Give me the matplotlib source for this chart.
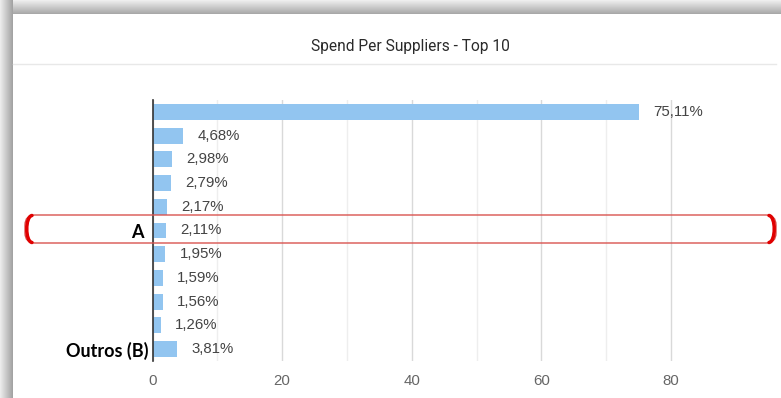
import matplotlib
matplotlib.use('Agg')
import matplotlib.pyplot as plt
import numpy as np
from matplotlib.patches import FancyBboxPatch, Rectangle
from matplotlib.path import Path
from matplotlib.patches import PathPatch

# dados do gráfico
suppliers = ['', '', '', '', '', 'A', '', '', '', '', 'Outros (B)']
shares = [75.11, 4.68, 2.98, 2.79, 2.17, 2.11, 1.95, 1.59, 1.56, 1.26, 3.81]
x_ticks = [0, 20, 40, 60, 80]
x_minor = [10, 30, 50, 70]
chart_title = 'Spend Per Suppliers - Top 10'

W, H = 781, 398
fig = plt.figure(figsize=(W / 100, H / 100), dpi=100)

# fundo: sombra do cartão + cartão branco
bg = fig.add_axes([0, 0, 1, 1], zorder=0)
bg.set_xlim(0, W)
bg.set_ylim(H, 0)
bg.axis('off')
top = np.linspace(0.93, 0.66, 14)[:, None] * np.ones((1, W))
bg.imshow(top, cmap='gray', vmin=0, vmax=1, extent=(0, W, 14, 0), aspect='auto')
left = np.ones((H, 1)) * np.linspace(0.92, 0.64, 13)[None, :]
bg.imshow(left, cmap='gray', vmin=0, vmax=1, extent=(0, 13, H, 0), aspect='auto')
bg.add_patch(Rectangle((13, 14), W - 13, H - 14, facecolor='white', edgecolor='none'))
bg.text(410, 46, chart_title, ha='center', va='center', fontsize=11.2,
        family='Roboto', color='#2a2a2a')
bg.plot([13, 776], [64, 64], color='#e8e8e8', lw=1)
bg.set_xlim(0, W)
bg.set_ylim(H, 0)

# gráfico de barras
px = 6.48
ax = fig.add_axes([152.5 / W, (H - 361) / H, 88 * px / W, 261 / H], zorder=1)
ax.patch.set_alpha(0)
pos = np.arange(len(shares))
ax.barh(pos, shares, height=0.67, color='#92c5f0', zorder=2)
ax.set_ylim(len(shares) - 0.5, -0.5)
ax.set_xlim(0, 88)
ax.set_yticks(pos)
ax.set_yticklabels(suppliers, fontsize=13, fontweight='bold', family='Lato', color='black')
ax.get_yticklabels()[5].set_x(-0.008)  # o "A" fica um pouco mais afastado
ax.set_xticks(x_ticks)
ax.set_xticks(x_minor, minor=True)
ax.set_xticklabels([str(t) for t in x_ticks], fontsize=10.8, family='Liberation Sans', color='#666666')
ax.tick_params(axis='x', which='both', length=0, pad=9.5)
ax.tick_params(axis='y', length=0, pad=3)
ax.grid(axis='x', which='major', color='#d9d9d9', lw=1, zorder=0)
ax.grid(axis='x', which='minor', color='#eeeeee', lw=1, zorder=0)
for s in ['top', 'right', 'bottom']:
    ax.spines[s].set_visible(False)
ax.spines['left'].set_color('#333333')
ax.spines['left'].set_linewidth(1.2)
ax.spines['left'].set_zorder(3)

for i, v in enumerate(shares):
    ax.annotate(f'{v:.2f}'.replace('.', ',') + '%', xy=(v, i), xytext=(10.4, 0),
                textcoords='offset points', va='center', ha='left',
                fontsize=10.8, family='Liberation Sans', color='#444444')

# destaque vermelho na linha A
ov = fig.add_axes([0, 0, 1, 1], zorder=3)
ov.set_xlim(0, W)
ov.set_ylim(H, 0)
ov.axis('off')
ov.patch.set_alpha(0)
ov.add_patch(FancyBboxPatch((25, 215), 751, 28, boxstyle='round,pad=0,rounding_size=10',
                            fill=False, edgecolor='#d9534f', lw=1))
lb = Path([(32, 215.5), (25, 216.5), (25, 241.5), (32, 242.5)],
          [Path.MOVETO, Path.CURVE4, Path.CURVE4, Path.CURVE4])
rb = Path([(769, 215.5), (776, 216.5), (776, 241.5), (769, 242.5)],
          [Path.MOVETO, Path.CURVE4, Path.CURVE4, Path.CURVE4])
ov.add_patch(PathPatch(lb, fill=False, edgecolor='#e00000', lw=2.5, capstyle='round'))
ov.add_patch(PathPatch(rb, fill=False, edgecolor='#e00000', lw=2.5, capstyle='round'))

fig.savefig('out.png', dpi=100)
